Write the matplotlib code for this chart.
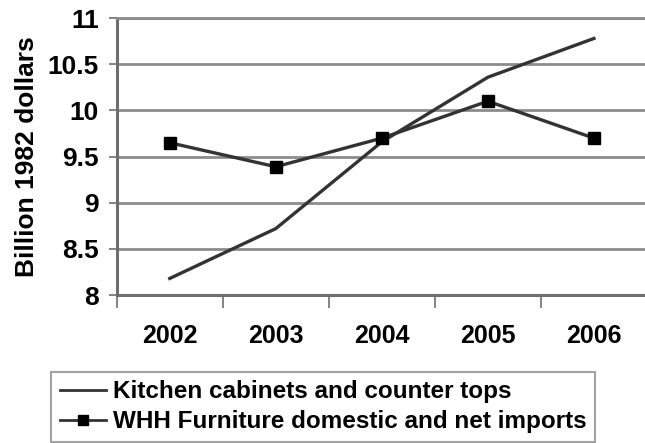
import matplotlib
matplotlib.use("Agg")
import matplotlib.pyplot as plt
from matplotlib.lines import Line2D

# values
years = ["2002", "2003", "2004", "2005", "2006"]
kitchen = [8.18, 8.72, 9.66, 10.36, 10.78]
whh = [9.65, 9.39, 9.70, 10.10, 9.70]

kitchen_label = "Kitchen cabinets and counter tops"
whh_label = "WHH Furniture domestic and net imports"

plt.rcParams['font.family'] = ['Liberation Sans', 'DejaVu Sans']
plt.rcParams['font.weight'] = 'bold'

line_color = '#333333'
grid_color = '#8c8c8c'
axis_color = '#6e6e6e'

fig = plt.figure(figsize=(6.45, 4.43), dpi=100)
ax = fig.add_axes([0.181, 0.334, 0.822, 0.625])

x = list(range(len(years)))
ax.plot(x, kitchen, color=line_color, linewidth=2.4, label=kitchen_label)
ax.plot(x, whh, color=line_color, linewidth=2.4, marker='s',
        markersize=8.5, markerfacecolor='black', markeredgecolor='black',
        label=whh_label)

ax.set_xlim(-0.5, 4.5)
ax.set_ylim(8, 11)
ax.set_yticks([8, 8.5, 9, 9.5, 10, 10.5, 11])
ax.set_yticklabels(["8", "8.5", "9", "9.5", "10", "10.5", "11"])
ax.set_xticks(x)
ax.set_xticklabels(years)
ax.set_xticks([i - 0.5 for i in range(len(years) + 1)], minor=True)

ax.tick_params(axis='y', which='major', length=6, width=1.2, color=axis_color,
               labelsize=19, pad=7)
ax.tick_params(axis='x', which='major', length=0, labelsize=18, pad=21)
ax.tick_params(axis='x', which='minor', length=9, width=1.2, color=axis_color)

ax.yaxis.grid(True, color=grid_color, linewidth=2)
ax.set_axisbelow(True)
for side in ['left', 'bottom']:
    ax.spines[side].set_color(axis_color)
    ax.spines[side].set_linewidth(2.2)
ax.spines['top'].set_color(grid_color)
ax.spines['top'].set_linewidth(2)
ax.spines['right'].set_visible(False)

ax.set_ylabel("Billion 1982 dollars", fontsize=19, fontweight='bold', labelpad=6)

handles = [
    Line2D([], [], color=line_color, linewidth=2),
    Line2D([], [], color=line_color, linewidth=2, marker='s', markersize=7,
           markerfacecolor='black', markeredgecolor='black'),
]
leg = fig.legend(handles, [kitchen_label, whh_label], loc='lower left',
                 bbox_to_anchor=(51 / 645, 1 / 443), fontsize=17.5,
                 frameon=True, fancybox=False, handlelength=1.9,
                 handletextpad=0.3, borderpad=0.35, labelspacing=0.3,
                 borderaxespad=0)
leg.get_frame().set_edgecolor('#8c8c8c')
leg.get_frame().set_linewidth(1.5)

fig.savefig("out.png", dpi=100)
